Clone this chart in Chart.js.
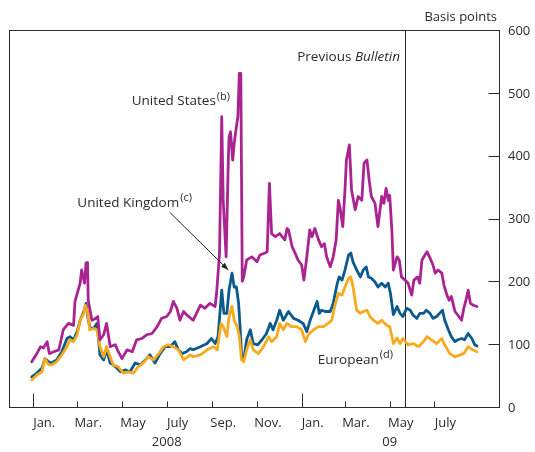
<!DOCTYPE html>
<html>
<head>
<meta charset="utf-8">
<script src="https://cdn.jsdelivr.net/npm/chart.js@4.4.0/dist/chart.umd.min.js"></script>
<style>
html,body{margin:0;padding:0;background:#fff;}
canvas{display:block;}
</style>
</head>
<body>
<canvas id="c" width="535" height="452"></canvas>
<script>
// x values: days since 1 January 2008
const usDays = [-2,5,10,14,19,22,28,35,41,48,55,57,64,66,70,72,74,75,80,85,88,91,96,100,105,112,116,121,128,135,141,148,155,162,169,175,182,187,191,196,200,205,209,214,218,228,234,241,248,250,254,257,259,263,266,267,269,272,274,277,279,281,283,285,287,291,298,305,309,316,319,322,325,330,336,343,346,348,353,357,361,366,369,373,377,380,384,389,393,397,400,405,409,413,416,418,422,425,427,431,434,439,443,448,451,455,458,461,466,470,475,478,481,484,486,489,491,496,499,502,507,511,516,519,524,527,530,534,537,541,545,548,552,557,560,564,567,570,575,579,584,587,590,593,596,600,605];
const usValues = [72,85,96,94,104,85,88,91,123,133,130,168,197,218,197,229,230,170,138,141,144,107,115,133,96,99,88,77,91,88,107,109,115,117,128,141,144,152,168,157,138,152,147,142,138,162,157,165,160,181,245,462,329,239,393,430,438,393,420,446,462,531,531,200,207,234,239,231,242,245,247,356,276,271,276,266,284,282,255,245,234,226,202,239,282,271,284,266,255,260,239,223,239,266,329,319,287,345,393,417,345,314,335,329,388,393,361,335,324,287,335,324,348,329,337,280,218,239,234,207,202,197,178,202,207,197,234,242,247,237,226,213,218,213,194,178,170,176,152,146,138,157,170,186,165,162,160];

const ukDays = [-2,5,12,16,21,25,32,39,46,50,55,60,64,69,72,75,78,82,87,91,96,100,105,109,114,119,125,132,139,146,153,159,166,173,180,187,193,198,203,209,214,218,228,237,243,248,252,257,260,264,267,271,274,277,280,282,284,287,291,296,300,306,312,318,323,327,332,336,341,348,355,361,368,373,377,382,387,390,393,398,405,409,414,417,421,425,430,433,436,441,446,450,454,457,461,466,470,475,480,484,486,487,491,496,500,504,509,514,518,523,527,532,536,541,545,550,554,558,561,566,570,575,579,584,588,593,598,602,605];
const ukValues = [48,54,62,77,72,70,75,88,109,112,107,120,138,152,165,138,125,125,133,83,75,91,70,67,62,56,59,56,70,67,75,83,70,85,96,96,104,91,85,88,93,91,96,101,109,101,112,186,149,149,186,213,191,191,165,128,85,75,107,123,101,99,107,117,133,123,138,154,138,152,141,138,133,120,136,152,168,149,154,152,152,165,194,207,202,218,242,245,231,218,207,218,223,207,205,199,191,197,191,197,186,181,147,160,149,144,157,154,146,141,149,149,154,149,141,144,149,154,138,123,112,104,107,109,107,117,109,99,97];

const euDays = [-2,5,12,16,21,25,32,39,46,50,55,60,64,69,71,74,77,82,87,91,96,100,105,109,116,123,130,137,143,150,157,164,171,178,184,191,198,205,214,218,228,237,246,251,256,259,264,267,271,274,278,281,284,287,291,296,300,307,314,321,325,332,336,341,346,352,359,366,371,375,382,389,396,402,407,411,416,421,425,430,433,436,441,446,450,455,459,464,470,475,482,486,487,491,496,500,504,511,518,525,532,537,543,550,557,561,568,575,582,587,593,599,605];
const euValues = [43,51,56,77,67,67,72,83,96,107,104,115,138,149,162,152,123,125,123,96,80,96,80,67,64,54,56,54,64,70,80,75,85,96,99,96,91,75,83,80,83,91,96,91,133,128,112,144,160,138,128,112,75,72,91,107,91,85,96,112,104,112,133,123,133,128,128,123,104,115,123,128,128,133,138,160,181,178,191,205,207,191,154,149,152,154,144,138,133,138,130,128,123,101,110,101,109,99,101,96,104,112,107,101,109,99,85,80,83,85,96,91,88];

const seriesNames = ['United States', 'United Kingdom', 'European'];
const yTicks = [0, 100, 200, 300, 400, 500, 600];
const monthTickDays = [0, 60, 121, 182, 244, 305, 366, 425, 486, 547];
const monthLabels = ['Jan.', 'Mar.', 'May', 'July', 'Sep.', 'Nov.', 'Jan.', 'Mar.', 'May', 'July'];
const yearLabels = ['2008', '09'];
const yearLabelDays = [182, 486];
const previousBulletinDay = 507;

const toPts = (xs, ys) => xs.map((d, i) => ({x: d, y: ys[i]}));
const FONT = '"Open Sans", "DejaVu Sans", sans-serif';
const TXT = '#2b2b2b';

const decor = {
  id: 'decor',
  beforeDatasetsDraw(chart) {
    const {ctx, chartArea: a, scales: {x}} = chart;
    ctx.save();
    ctx.strokeStyle = '#2b2b2b';
    ctx.lineWidth = 1;
    const vx = Math.round(x.getPixelForValue(previousBulletinDay)) + 0.5;
    ctx.beginPath(); ctx.moveTo(vx, a.top); ctx.lineTo(vx, a.bottom); ctx.stroke();
    ctx.restore();
  },
  afterDraw(chart) {
    const {ctx, chartArea: a, scales: {x, y}} = chart;
    ctx.save();
    ctx.strokeStyle = '#2b2b2b';
    ctx.lineWidth = 1;
    const L = Math.round(a.left) + 0.5, R = Math.round(a.right) + 0.5;
    const T = Math.round(a.top) + 0.5, B = Math.round(a.bottom) + 0.5;
    ctx.strokeRect(L, T, R - L, B - T);
    yTicks.forEach(v => {
      const py = Math.round(y.getPixelForValue(v)) + 0.5;
      if (v > 0 && v < 600) { ctx.beginPath(); ctx.moveTo(R - 11, py); ctx.lineTo(R, py); ctx.stroke(); }
    });
    monthTickDays.forEach((d, i) => {
      const px = Math.round(x.getPixelForValue(d)) + 0.5;
      const len = monthLabels[i] === 'Jan.' ? 14 : 6;
      ctx.beginPath(); ctx.moveTo(px, B); ctx.lineTo(px, B - len); ctx.stroke();
    });
    ctx.fillStyle = TXT;
    ctx.font = '13px ' + FONT;
    ctx.textBaseline = 'middle';
    ctx.textAlign = 'left';
    yTicks.forEach(v => ctx.fillText(String(v), a.right + 9, y.getPixelForValue(v) + 1));
    ctx.textAlign = 'center';
    monthTickDays.forEach((d, i) => ctx.fillText(monthLabels[i], x.getPixelForValue(d + 15), a.bottom + 16));
    yearLabels.forEach((t, i) => ctx.fillText(t, x.getPixelForValue(yearLabelDays[i]), a.bottom + 35));
    ctx.textAlign = 'right';
    ctx.fillText('Basis points', a.right - 2, 17);

    const AF = '13.5px ' + FONT;
    ctx.textAlign = 'left';
    const pbRight = x.getPixelForValue(500), pbY = y.getPixelForValue(556);
    ctx.font = 'italic ' + AF;
    const wB = ctx.measureText('Bulletin').width;
    ctx.font = AF;
    const wP = ctx.measureText('Previous ').width;
    ctx.fillText('Previous ', pbRight - wB - wP, pbY);
    ctx.font = 'italic ' + AF;
    ctx.fillText('Bulletin', pbRight - wB, pbY);

    function label(main, sup, xv, yv, align) {
      ctx.font = AF;
      const w = ctx.measureText(main).width;
      let px = x.getPixelForValue(xv);
      const py = y.getPixelForValue(yv);
      if (align === 'right') px -= w;
      ctx.textAlign = 'left';
      ctx.fillText(main, px, py);
      ctx.font = '11px ' + FONT;
      ctx.fillText(sup, px + w + 1, py - 5);
    }
    label(seriesNames[0], '(b)', 249, 486, 'right');
    label(seriesNames[1], '(c)', 199, 325, 'right');
    label(seriesNames[2], '(d)', 388, 75, 'left');

    const ax0 = x.getPixelForValue(186), ay0 = y.getPixelForValue(310);
    const ax1 = x.getPixelForValue(266), ay1 = y.getPixelForValue(218);
    ctx.strokeStyle = '#222'; ctx.fillStyle = '#222'; ctx.lineWidth = 1;
    ctx.beginPath(); ctx.moveTo(ax0, ay0); ctx.lineTo(ax1, ay1); ctx.stroke();
    const ang = Math.atan2(ay1 - ay0, ax1 - ax0);
    ctx.beginPath();
    ctx.moveTo(ax1, ay1);
    ctx.lineTo(ax1 - 8 * Math.cos(ang - 0.35), ay1 - 8 * Math.sin(ang - 0.35));
    ctx.lineTo(ax1 - 8 * Math.cos(ang + 0.35), ay1 - 8 * Math.sin(ang + 0.35));
    ctx.closePath(); ctx.fill();
    ctx.restore();
  }
};

new Chart(document.getElementById('c'), {
  type: 'line',
  data: {
    datasets: [
      {label: seriesNames[0], data: toPts(usDays, usValues), borderColor: '#AA2491', order: 0},
      {label: seriesNames[2], data: toPts(euDays, euValues), borderColor: '#F8AA1E', order: 1},
      {label: seriesNames[1], data: toPts(ukDays, ukValues), borderColor: '#0B5A8E', order: 2}
    ].map(ds => Object.assign(ds, {borderWidth: 2.8, pointRadius: 0, tension: 0, fill: false, borderJoinStyle: 'round', borderCapStyle: 'round'}))
  },
  options: {
    responsive: false,
    animation: false,
    events: [],
    layout: {padding: {left: 9, right: 36, top: 30, bottom: 45}},
    scales: {
      x: {type: 'linear', min: -33, max: 635, display: false},
      y: {type: 'linear', min: 0, max: 600, display: false}
    },
    plugins: {legend: {display: false}, tooltip: {enabled: false}}
  },
  plugins: [decor]
});
</script>
</body>
</html>
